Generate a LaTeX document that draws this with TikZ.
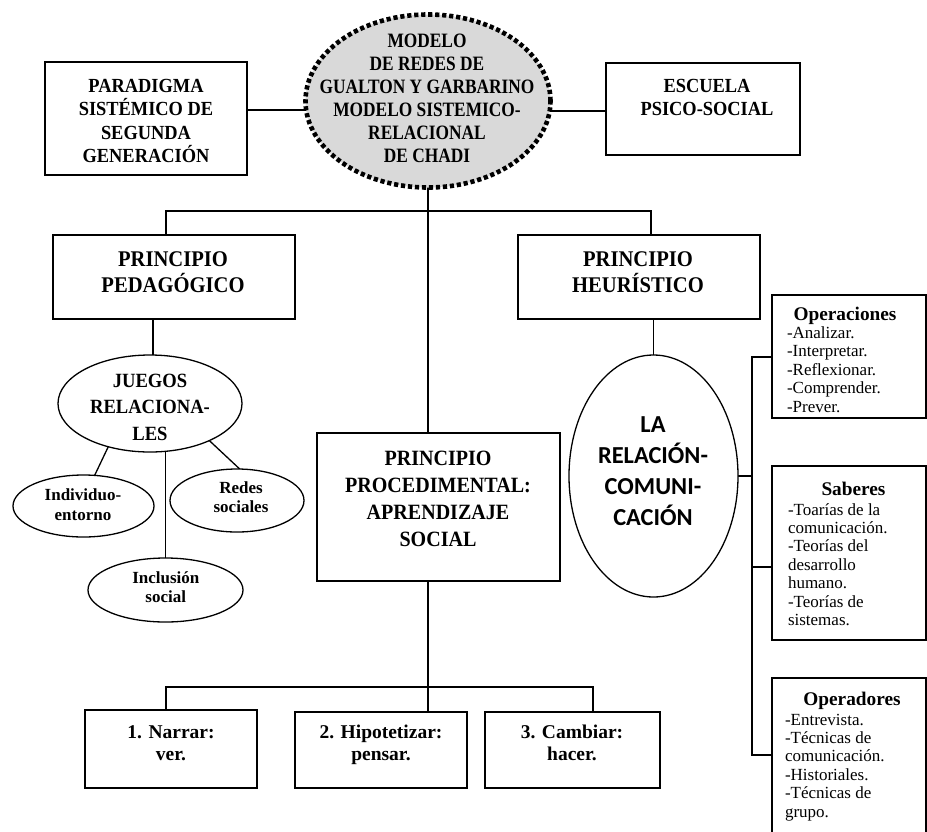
\documentclass[tikz,border=0pt]{standalone}
\usepackage{fontspec}
\setmainfont{Liberation Serif}
\newfontfamily\headserif{Liberation Serif}[FakeStretch=0.92]
\newfontfamily\narrowserif{Liberation Serif}[FakeStretch=0.85]
\newfontfamily\sanshead{Carlito}
\usetikzlibrary{shapes.geometric,backgrounds}

% stacked lines: first baseline is the box baseline
\newcommand\clines[2]{\vtop{\baselineskip=#1\relax\halign{\hfil##\hfil\cr#2\crcr}}}
\newcommand\llines[2]{\vtop{\baselineskip=#1\relax\halign{##\hfil\cr#2\crcr}}}

\tikzset{
  box/.style={draw, rectangle, line width=1.6pt, fill=white, inner sep=0pt, outer sep=0pt},
  oval/.style={draw, ellipse, line width=1.3pt, fill=white, inner sep=0pt, outer sep=0pt},
  dotoval/.style={draw, ellipse, line width=4.6pt, dash pattern=on 4.2pt off 2.8pt,
                  fill=black!15, inner sep=0pt, outer sep=0pt},
  link/.style={line width=1.3pt},
  lbl/.style={inner sep=0pt, outer sep=0pt, anchor=base},
  llbl/.style={inner sep=0pt, outer sep=0pt, anchor=base west},
}

\begin{document}
\begin{tikzpicture}[x=1pt, y=-1pt]
\useasboundingbox (0,0) rectangle (927,831);

% ---------- top row ----------
\node[dotoval, minimum width=245pt, minimum height=173pt] (modelo) at (428,101) {};
\node[lbl, font=\narrowserif\bfseries\fontsize{20.4}{23}\selectfont] (modelo-t) at (427,47)
  {\clines{23pt}{MODELO\cr DE REDES DE\cr GUALTON Y GARBARINO\cr MODELO SISTEMICO-\cr RELACIONAL\cr DE CHADI}};

\node[box, minimum width=202pt, minimum height=113pt] (para) at (146,118.5) {};
\node[lbl, font=\headserif\bfseries\fontsize{20}{23}\selectfont] (para-t) at (146,92)
  {\clines{23.6pt}{PARADIGMA\cr SISTÉMICO DE\cr SEGUNDA\cr GENERACIÓN}};

\node[box, minimum width=194pt, minimum height=92pt] (escu) at (703,109) {};
\node[lbl, font=\headserif\bfseries\fontsize{20}{23}\selectfont] (escu-t) at (707,92)
  {\clines{23pt}{ESCUELA\cr PSICO-SOCIAL}};

% ---------- principles ----------
\node[box, minimum width=242pt, minimum height=84pt] (ped) at (174,277) {};
\node[lbl, font=\headserif\bfseries\fontsize{22.4}{26}\selectfont] (ped-t) at (173,266)
  {\clines{26pt}{PRINCIPIO\cr PEDAGÓGICO}};

\node[box, minimum width=242pt, minimum height=84pt] (heu) at (639,277) {};
\node[lbl, font=\headserif\bfseries\fontsize{22.4}{26}\selectfont] (heu-t) at (638,266)
  {\clines{26pt}{PRINCIPIO\cr HEURÍSTICO}};

\node[box, minimum width=243pt, minimum height=148pt] (proc) at (438.5,507) {};
\node[lbl, font=\headserif\bfseries\fontsize{21.8}{27}\selectfont] (proc-t) at (438,465)
  {\clines{27pt}{PRINCIPIO\cr PROCEDIMENTAL:\cr APRENDIZAJE\cr SOCIAL}};

% ---------- relational games ----------
\node[oval, minimum width=184pt, minimum height=97pt] (juegos) at (150,403.5) {};
\node[lbl, font=\headserif\bfseries\fontsize{20.2}{26}\selectfont] (juegos-t) at (150,387)
  {\clines{26.5pt}{JUEGOS\cr RELACIONA-\cr LES}};

\node[oval, minimum width=141pt, minimum height=62pt] (indiv) at (83.5,506) {};
\node[lbl, font=\bfseries\fontsize{17}{20}\selectfont] (indiv-t) at (83,500)
  {\clines{20pt}{Individuo-\cr entorno}};

\node[oval, minimum width=134pt, minimum height=63pt] (redes) at (237,500.5) {};
\node[lbl, font=\bfseries\fontsize{17}{20}\selectfont] (redes-t) at (241,493)
  {\clines{19pt}{Redes\cr sociales}};

\node[oval, minimum width=155pt, minimum height=64pt] (incl) at (165.5,590) {};
\node[lbl, font=\bfseries\fontsize{17}{20}\selectfont] (incl-t) at (165.8,583)
  {\clines{19.5pt}{Inclusión\cr social}};

% ---------- relation-communication ----------
\node[oval, minimum width=169pt, minimum height=242pt] (rel) at (653.5,476) {};
\node[lbl, font=\sanshead\bfseries\fontsize{24.4}{31}\selectfont] (rel-t) at (653,432)
  {\clines{31pt}{LA\cr RELACIÓN-\cr COMUNI-\cr CACIÓN}};

% ---------- side boxes ----------
\node[box, minimum width=154pt, minimum height=123pt] (oper) at (849,356.5) {};
\node[lbl, font=\bfseries\fontsize{19.3}{20}\selectfont] (oper-h) at (845,320) {Operaciones};
\node[llbl, font=\fontsize{17}{18.5}\selectfont] (oper-t) at (787,338)
  {\llines{18.5pt}{-Analizar.\cr -Interpretar.\cr -Reflexionar.\cr -Comprender.\cr -Prever.}};

\node[box, minimum width=154pt, minimum height=174pt] (sab) at (849,553) {};
\node[lbl, font=\bfseries\fontsize{19.3}{20}\selectfont] (sab-h) at (853.5,495) {Saberes};
\node[llbl, font=\fontsize{17}{18.5}\selectfont] (sab-t) at (788,515)
  {\llines{18.4pt}{-Toarías de la\cr comunicación.\cr -Teorías del\cr desarrollo\cr humano.\cr -Teorías de\cr sistemas.}};

\node[box, minimum width=154pt, minimum height=172pt] (opd) at (849,764) {};
\node[lbl, font=\bfseries\fontsize{19.3}{20}\selectfont] (opd-h) at (852,705) {Operadores};
\node[llbl, font=\fontsize{17}{18.5}\selectfont] (opd-t) at (785,725)
  {\llines{18.4pt}{-Entrevista.\cr -Técnicas de\cr comunicación.\cr -Historiales.\cr -Técnicas de\cr grupo.}};

% ---------- learning steps ----------
\node[box, minimum width=172pt, minimum height=78pt] (b1) at (171,749) {};
\node[lbl, font=\bfseries\fontsize{19.5}{22}\selectfont] (b1-t) at (171,738)
  {\clines{22pt}{1. Narrar:\cr ver.}};
\node[box, minimum width=172pt, minimum height=76pt] (b2) at (381,750) {};
\node[lbl, font=\bfseries\fontsize{19.5}{22}\selectfont] (b2-t) at (381,738)
  {\clines{22pt}{2. Hipotetizar:\cr pensar.}};
\node[box, minimum width=175pt, minimum height=76pt] (b3) at (572.5,750) {};
\node[lbl, font=\bfseries\fontsize{19.5}{22}\selectfont] (b3-t) at (572,738)
  {\clines{22pt}{3. Cambiar:\cr hacer.}};

% ---------- connectors (behind the shapes) ----------
\coordinate (busL) at (166,211);
\coordinate (busR) at (651,211);
\coordinate (lowL) at (166,687);
\coordinate (lowR) at (593,687);
\coordinate (sideT) at (752,357);
\coordinate (sideM) at (752,567);
\coordinate (sideB) at (752,755);

\begin{pgfonlayer}{background}
  \draw[link] ([yshift=8.5pt]para.east) -- ([yshift=8.5pt]para.east -| modelo.center);
  \draw[link] ([yshift=-2pt]escu.west) -- ([yshift=-2pt]escu.west -| modelo.center);
  \draw[link] (modelo.center) -- (modelo.center |- proc.north);
  \draw[link] (busL |- ped.north) -- (busL) -- (busR) -- (busR |- heu.north);
  \draw[link] ([xshift=3pt]juegos.center) -- ([xshift=3pt]juegos.center |- ped.south);
  \draw[link] (juegos.226) -- (indiv.70);
  \draw[link] (juegos.328) -- (redes.85);
  \draw[link] (incl.north) -- (incl.north |- juegos.center);
  \draw[link] (rel.center) -- (rel.center |- heu.south);
  \draw[link] (rel.center) -- (rel.center -| sideM);
  \draw[link] (oper.west |- sideT) -- (sideT) -- (sideB) -- (opd.west |- sideB);
  \draw[link] (sideM) -- (sab.west |- sideM);
  \draw[link] (proc.south -| modelo.center) -- (b2.north -| modelo.center);
  \draw[link] (lowL |- b1.north) -- (lowL) -- (lowR) -- (lowR |- b3.north);
\end{pgfonlayer}
\end{tikzpicture}
\end{document}
